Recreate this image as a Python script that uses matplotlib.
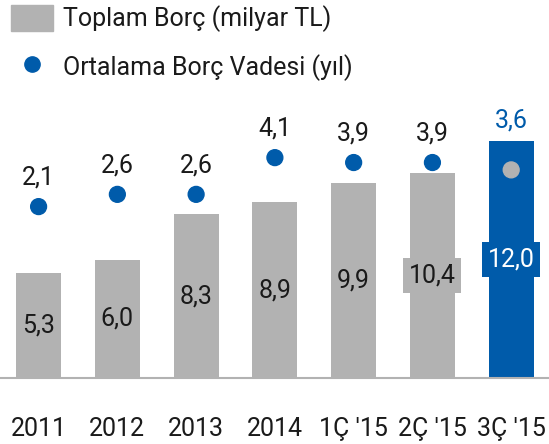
import matplotlib.pyplot as plt
from matplotlib.lines import Line2D
from matplotlib.patches import Patch

plt.rcParams['font.family'] = ['Roboto', 'DejaVu Sans']

periods = ["2011", "2012", "2013", "2014", "1Ç '15", "2Ç '15", "3Ç '15"]
total_debt = [5.3, 6.0, 8.3, 8.9, 9.9, 10.4, 12.0]
avg_maturity = [2.1, 2.6, 2.6, 4.1, 3.9, 3.9, 3.6]

gray = '#B2B2B2'
blue = '#005BAA'
ink = '#1a1a1a'
bar_colors = [gray] * 6 + [blue]
dot_colors = [blue] * 6 + [gray]
fs = 18

fig = plt.figure(figsize=(5.49, 4.44), dpi=100)
ax = fig.add_axes([0, 0.1486, 1, 0.6486])
x = list(range(len(periods)))

ax.bar(x, total_debt, width=0.57, color=bar_colors, zorder=2)
ax.set_xlim(-0.49, 6.48)
ax.set_ylim(0, 14.6)
for s in ['top', 'right', 'left']:
    ax.spines[s].set_visible(False)
ax.spines['bottom'].set_color(gray)
ax.spines['bottom'].set_linewidth(1.5)
ax.set_yticks([])
ax.set_xticks(x)
ax.set_xticklabels(periods, fontsize=fs, color=ink)
ax.tick_params(axis='x', length=0, pad=28)

for i, v in enumerate(total_debt):
    c = bar_colors[i]
    tc = 'white' if c == blue else ink
    ax.text(i, v / 2, f"{v:.1f}".replace('.', ','), ha='center', va='center',
            fontsize=fs, color=tc, zorder=3,
            bbox=dict(boxstyle='square,pad=0.22', fc=c, ec='none'))

# last label sits above the bar, the others above their dots
ax.annotate(f"{avg_maturity[-1]:.1f}".replace('.', ','), (6, total_debt[-1]),
            xytext=(0, 15), textcoords='offset points', ha='center',
            va='center', fontsize=fs, color=blue)

ax2 = ax.twinx()
ax2.set_ylim(-4.9, 6.86)
ax2.axis('off')
ax2.scatter(x, avg_maturity, s=130, color=dot_colors, zorder=4)
for i, v in enumerate(avg_maturity[:-1]):
    ax2.annotate(f"{v:.1f}".replace('.', ','), (i, v), xytext=(0, 21),
                 textcoords='offset points', ha='center', va='center',
                 fontsize=fs, color=ink)

handles = [Patch(color=gray), Line2D([], [], marker='o', linestyle='none',
                                     color=blue, markersize=11)]
fig.legend(handles, ['Toplam Borç (milyar TL)', 'Ortalama Borç Vadesi (yıl)'],
           loc='upper left', bbox_to_anchor=(11 / 549, 1 - 5 / 444),
           frameon=False, fontsize=fs, handlelength=1.68, handleheight=1.2,
           labelspacing=0.85, handletextpad=0.42, borderaxespad=0,
           borderpad=0, labelcolor=ink)

fig.savefig('out.png', dpi=100)
